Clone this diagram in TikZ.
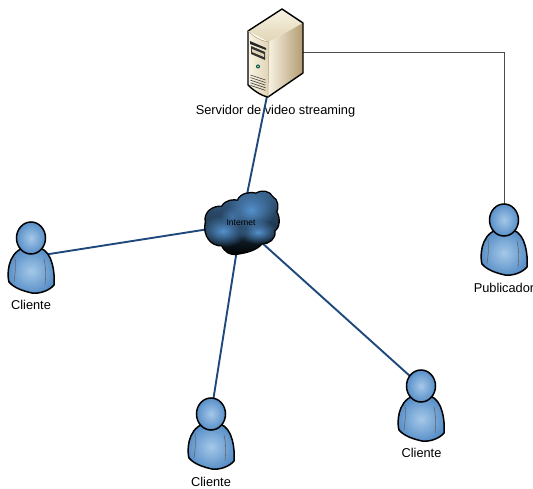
\documentclass[tikz,border=0pt]{standalone}
\usepackage{fontspec}
\setmainfont{Liberation Sans}
\usetikzlibrary{fadings}
\definecolor{linkblue}{RGB}{31,73,125}
\definecolor{persona}{RGB}{88,143,200}
\definecolor{personb}{RGB}{165,200,232}
\definecolor{cloudblue}{RGB}{84,145,205}
\definecolor{beigea}{RGB}{248,243,228}
\definecolor{beigeb}{RGB}{225,212,180}
\definecolor{beigec}{RGB}{178,155,112}
\tikzfading[name=softblob,inner color=transparent!0,outer color=transparent!100]
\tikzset{
  x=1pt,y=-1pt,
  lbl/.style={font=\fontsize{12.8}{14}\selectfont,inner sep=0pt,text=black},
  anchorbox/.style={inner sep=0pt,minimum size=1pt},
  link/.style={draw=linkblue,line width=1.9pt},
  feed/.style={draw=black!70,line width=.8pt},
  blob/.style={fill=#1,path fading=softblob},
  pers/.pic={
    \draw[line width=1.5pt,line join=round,shading=radial,inner color=personb,outer color=persona,draw=black]
      (-22,44) .. controls (-24,38) and (-24,16) .. (-8,10)
      -- (9,10) .. controls (22,14) and (24,36) .. (23,47)
      .. controls (18,53) and (8,56) .. (1,55)
      .. controls (-8,53) and (-17,50) .. (-22,44) -- cycle;
    \draw[black!60,line width=.6pt] (-16,19) .. controls (-15,30) and (-16,36) .. (-17,44);
    \draw[black!60,line width=.6pt] (13,21) .. controls (15,30) and (15,38) .. (14,47);
    \draw[line width=1.5pt,draw=black,shading=radial,inner color=personb,outer color=persona]
      (0,0) ellipse[x radius=14.5,y radius=16];
  }
}
\begin{document}
\begin{tikzpicture}
\useasboundingbox (0,0) rectangle (533,489);
% anchors
\node[anchorbox] (srvb) at (267,96) {};
\node[anchorbox] (srvr) at (303,52) {};
\coordinate (bend) at (504,52);
\node[anchorbox] (cloud) at (241,224) {};
\node[anchorbox] (pub) at (504,220) {};
\node[anchorbox] (c1) at (31,238) {};
\node[anchorbox] (c2) at (211,414) {};
\node[anchorbox] (c3) at (421,386) {};
% labels
\node[lbl] (tsrv) at (275.5,111) {Servidor de video streaming};
\node[lbl] (t1) at (31,305) {Cliente};
\node[lbl] (t2) at (211,482) {Cliente};
\node[lbl] (t3) at (421.5,453) {Cliente};
\node[lbl] (tp) at (504,288) {Publicador};
% connectors
\draw[feed] (srvr.center) -- (bend) -- (pub.center);
\draw[link] (srvb.center) -- (cloud.center);
\draw[link] (c1.center) ++(12,17) -- (cloud.center);
\draw[link] (c2.center) -- (cloud.center);
\draw[link] (c3.center) -- (cloud.center);
% server
\shade[top color=beigea,bottom color=beigeb] (248,31) -- (282,9) -- (303,23) -- (269,42) -- cycle;
\shade[left color=beigea,right color=beigeb] (248,31) .. controls (255,38) and (262,41) .. (269,42) -- (268,97) .. controls (262,96) and (254,91) .. (248,85) -- cycle;
\shade[left color=beigea,right color=beigec] (269,42) -- (303,23) -- (303,73) -- (268,97) -- cycle;
\draw[line width=1.4pt,line join=round] (248,31) -- (282,9) -- (303,23) -- (303,73) -- (268,97) .. controls (262,96) and (254,91) .. (248,85) -- cycle;
\draw[line width=.5pt,beigec] (248,31) .. controls (255,38) and (262,41) .. (269,42) -- (268,97);
\fill[black!85] (250,41) -- (266,48) -- (266,50) -- (250,44) -- cycle;
\fill[black!80] (251,46) -- (265,52) -- (265,60) -- (251,54) -- cycle;
\fill[beigeb] (252,49) -- (264,54) -- (264,57) -- (252,52) -- cycle;
\fill[teal!60!black] (258,66.5) circle[radius=2];
\fill[green!30!white] (258,66.5) circle[radius=.8];
\foreach \i in {0,1,2,3,4} {
  \draw[black!75,line width=.6pt] (250.5,{75+\i*2.6}) -- (265.5,{80+\i*2.6});
}
% cloud
\draw[line width=2.8pt,line join=round,fill=black!88!blue]
  (206,222) .. controls (204,212) and (214,206) .. (222,207)
  .. controls (226,200) and (234,200) .. (238,201)
  .. controls (240,194) and (250,192) .. (256,194)
  .. controls (262,190) and (270,192) .. (272,197)
  .. controls (278,200) and (278,208) .. (276,212)
  .. controls (280,218) and (279,228) .. (274,231)
  .. controls (276,238) and (268,244) .. (262,243)
  .. controls (256,250) and (246,252) .. (240,253)
  .. controls (230,256) and (224,250) .. (222,245)
  .. controls (212,246) and (203,236) .. (206,222) -- cycle;
\begin{scope}
\clip (206,222) .. controls (204,212) and (214,206) .. (222,207)
  .. controls (226,200) and (234,200) .. (238,201)
  .. controls (240,194) and (250,192) .. (256,194)
  .. controls (262,190) and (270,192) .. (272,197)
  .. controls (278,200) and (278,208) .. (276,212)
  .. controls (280,218) and (279,228) .. (274,231)
  .. controls (276,238) and (268,244) .. (262,243)
  .. controls (256,250) and (246,252) .. (240,253)
  .. controls (230,256) and (224,250) .. (222,245)
  .. controls (212,246) and (203,236) .. (206,222) -- cycle;
\shade[top color=cloudblue!70!black,bottom color=black,middle color=cloudblue!40!black] (200,190) rectangle (285,256);
\fill[blob=cloudblue] (223,231) ellipse[x radius=24,y radius=16];
\fill[blob=cloudblue] (251,210) ellipse[x radius=24,y radius=20];
\fill[blob=cloudblue] (258,232) ellipse[x radius=20,y radius=12];
\fill[blob=cloudblue!80!black] (232,216) ellipse[x radius=12,y radius=10];
\end{scope}
\node[font=\fontsize{8.5}{9}\selectfont,inner sep=0pt,text=black] (tnet) at (241,223) {Internet};
% persons
\pic at (pub) {pers};
\pic at (c1) {pers};
\pic at (c2) {pers};
\pic at (c3) {pers};
\end{tikzpicture}
\end{document}
